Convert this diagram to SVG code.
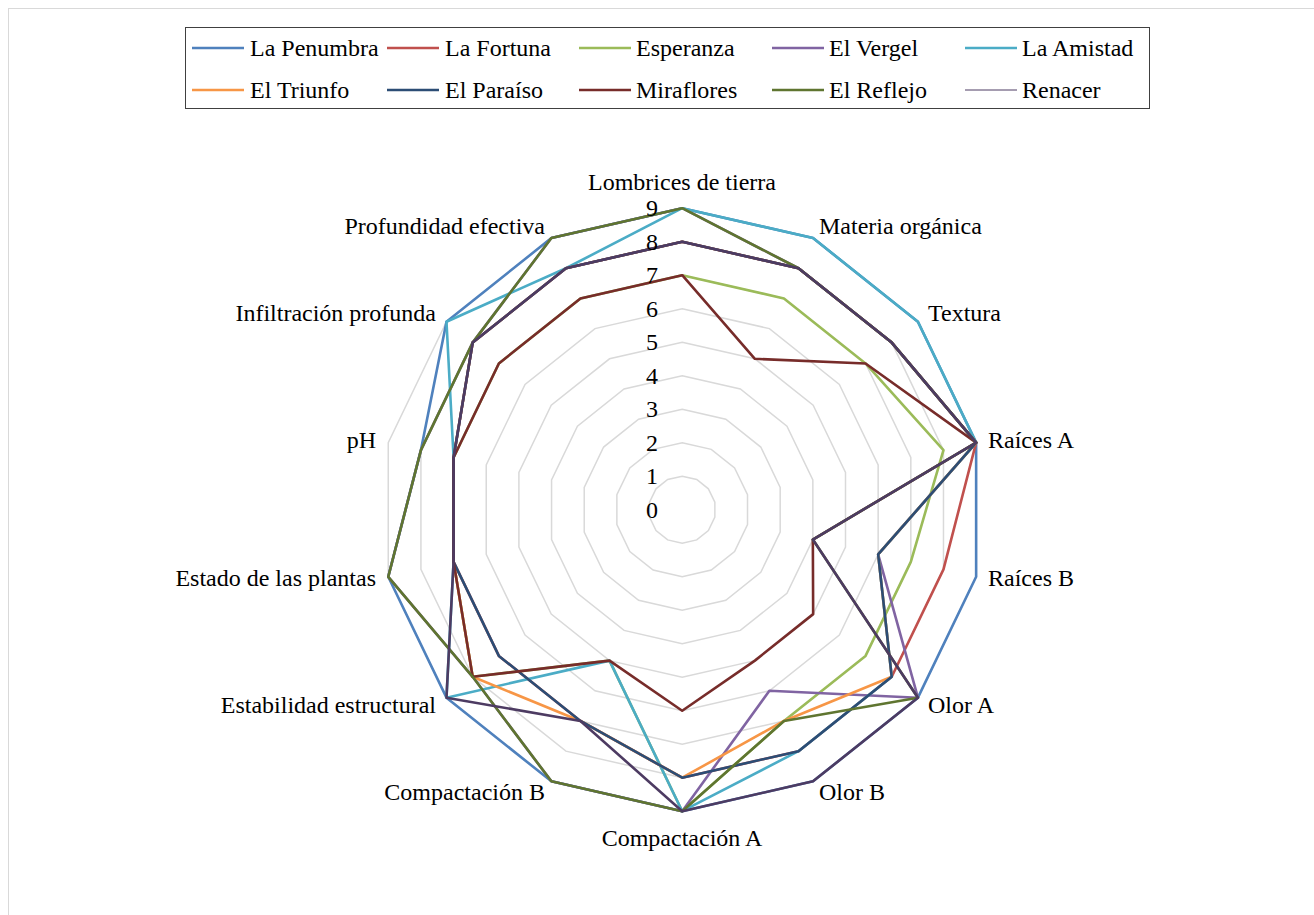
<svg xmlns="http://www.w3.org/2000/svg" width="1314" height="915" viewBox="0 0 1314 915">
<style>
text{font-family:"Liberation Serif","Times New Roman",serif;font-size:24px;fill:#000}
.grid polygon{fill:none;stroke:#D9D9D9;stroke-width:1.5}
.s{fill:none;stroke-width:2.6;stroke-linejoin:round}
.lg{stroke-width:2.6}
.end{text-anchor:end}
.mid{text-anchor:middle}
</style>
<rect x="8.5" y="8.5" width="1320" height="920" fill="#FFFFFF" stroke="#D9D9D9" stroke-width="1"/>
<g id="plot" transform="translate(682.2,509.7)">
<g id="grid" class="grid">
<polygon points="0,-33.5 14.54,-30.18 26.19,-20.89 32.66,-7.45 32.66,7.45 26.19,20.89 14.54,30.18 0,33.5 -14.54,30.18 -26.19,20.89 -32.66,7.45 -32.66,-7.45 -26.19,-20.89 -14.54,-30.18"/>
<polygon points="0,-67 29.07,-60.36 52.38,-41.77 65.32,-14.91 65.32,14.91 52.38,41.77 29.07,60.36 0,67 -29.07,60.36 -52.38,41.77 -65.32,14.91 -65.32,-14.91 -52.38,-41.77 -29.07,-60.36"/>
<polygon points="0,-100.5 43.6,-90.55 78.57,-62.66 97.98,-22.36 97.98,22.36 78.57,62.66 43.6,90.55 0,100.5 -43.6,90.55 -78.57,62.66 -97.98,22.36 -97.98,-22.36 -78.57,-62.66 -43.6,-90.55"/>
<polygon points="0,-134 58.14,-120.73 104.76,-83.55 130.64,-29.82 130.64,29.82 104.76,83.55 58.14,120.73 0,134 -58.14,120.73 -104.76,83.55 -130.64,29.82 -130.64,-29.82 -104.76,-83.55 -58.14,-120.73"/>
<polygon points="0,-167.5 72.68,-150.91 130.96,-104.44 163.3,-37.27 163.3,37.27 130.96,104.44 72.68,150.91 0,167.5 -72.68,150.91 -130.96,104.44 -163.3,37.27 -163.3,-37.27 -130.96,-104.44 -72.68,-150.91"/>
<polygon points="0,-201 87.21,-181.09 157.15,-125.32 195.96,-44.72 195.96,44.72 157.15,125.32 87.21,181.09 0,201 -87.21,181.09 -157.15,125.32 -195.96,44.72 -195.96,-44.72 -157.15,-125.32 -87.21,-181.09"/>
<polygon points="0,-234.5 101.75,-211.27 183.34,-146.21 228.62,-52.18 228.62,52.18 183.34,146.21 101.75,211.27 0,234.5 -101.75,211.27 -183.34,146.21 -228.62,52.18 -228.62,-52.18 -183.34,-146.21 -101.75,-211.27"/>
<polygon points="0,-268 116.28,-241.46 209.53,-167.1 261.28,-59.63 261.28,59.63 209.53,167.1 116.28,241.46 0,268 -116.28,241.46 -209.53,167.1 -261.28,59.63 -261.28,-59.63 -209.53,-167.1 -116.28,-241.46"/>
<polygon points="0,-301.5 130.82,-271.64 235.72,-187.98 293.94,-67.09 293.94,67.09 235.72,187.98 130.82,271.64 0,301.5 -130.82,271.64 -235.72,187.98 -293.94,67.09 -293.94,-67.09 -235.72,-187.98 -130.82,-271.64"/>
</g>
<g id="series">
<polygon id="s-la-penumbra" class="s" stroke="#4F81BD" points="0,-301.5 130.82,-271.64 235.72,-187.98 293.94,-67.09 293.94,67.09 235.72,187.98 130.82,271.64 0,301.5 -130.82,271.64 -235.72,187.98 -293.94,67.09 -261.28,-59.63 -235.72,-187.98 -130.82,-271.64"/>
<polygon id="s-la-fortuna" class="s" stroke="#C0504D" points="0,-268 116.28,-241.46 209.53,-167.1 293.94,-67.09 261.28,59.63 209.53,167.1 116.28,241.46 0,268 -101.75,211.27 -183.34,146.21 -228.62,52.18 -228.62,-52.18 -209.53,-167.1 -116.28,-241.46"/>
<polygon id="s-esperanza" class="s" stroke="#9BBB59" points="0,-234.5 101.75,-211.27 183.34,-146.21 261.28,-59.63 228.62,52.18 183.34,146.21 101.75,211.27 0,301.5 -72.68,150.91 -209.53,167.1 -228.62,52.18 -228.62,-52.18 -183.34,-146.21 -101.75,-211.27"/>
<polygon id="s-el-vergel" class="s" stroke="#8064A2" points="0,-301.5 116.28,-241.46 209.53,-167.1 293.94,-67.09 195.96,44.72 235.72,187.98 87.21,181.09 0,301.5 -130.82,271.64 -209.53,167.1 -293.94,67.09 -261.28,-59.63 -209.53,-167.1 -130.82,-271.64"/>
<polygon id="s-la-amistad" class="s" stroke="#4BACC6" points="0,-301.5 130.82,-271.64 235.72,-187.98 293.94,-67.09 195.96,44.72 209.53,167.1 116.28,241.46 0,301.5 -72.68,150.91 -235.72,187.98 -228.62,52.18 -228.62,-52.18 -235.72,-187.98 -116.28,-241.46"/>
<polygon id="s-el-triunfo" class="s" stroke="#F79646" points="0,-268 116.28,-241.46 209.53,-167.1 293.94,-67.09 195.96,44.72 209.53,167.1 101.75,211.27 0,268 -101.75,211.27 -209.53,167.1 -228.62,52.18 -228.62,-52.18 -209.53,-167.1 -116.28,-241.46"/>
<polygon id="s-el-paraiso" class="s" stroke="#2C4D75" points="0,-268 116.28,-241.46 209.53,-167.1 293.94,-67.09 195.96,44.72 209.53,167.1 116.28,241.46 0,268 -101.75,211.27 -183.34,146.21 -228.62,52.18 -228.62,-52.18 -209.53,-167.1 -116.28,-241.46"/>
<polygon id="s-miraflores" class="s" stroke="#772C2A" points="0,-234.5 72.68,-150.91 183.34,-146.21 293.94,-67.09 130.64,29.82 130.96,104.44 72.68,150.91 0,201 -72.68,150.91 -209.53,167.1 -228.62,52.18 -228.62,-52.18 -183.34,-146.21 -101.75,-211.27"/>
<polygon id="s-el-reflejo" class="s" stroke="#5F7530" points="0,-301.5 116.28,-241.46 209.53,-167.1 293.94,-67.09 130.64,29.82 235.72,187.98 101.75,211.27 0,301.5 -130.82,271.64 -209.53,167.1 -293.94,67.09 -261.28,-59.63 -209.53,-167.1 -130.82,-271.64"/>
<polygon id="s-renacer" class="s" stroke="#4D3B62" stroke-width="1" points="0,-268 116.28,-241.46 209.53,-167.1 293.94,-67.09 130.64,29.82 235.72,187.98 130.82,271.64 0,301.5 -101.75,211.27 -235.72,187.98 -228.62,52.18 -228.62,-52.18 -209.53,-167.1 -116.28,-241.46"/>
</g>
</g>
<g id="ticks" class="end">
<text x="658" y="518">0</text>
<text x="658" y="484">1</text>
<text x="658" y="451">2</text>
<text x="658" y="417">3</text>
<text x="658" y="384">4</text>
<text x="658" y="350">5</text>
<text x="658" y="317">6</text>
<text x="658" y="283">7</text>
<text x="658" y="250">8</text>
<text x="658" y="216">9</text>
</g>
<g id="axis-labels">
<text id="lbl-lombrices" class="mid" x="682" y="190">Lombrices de tierra</text>
<text id="lbl-materia" x="819" y="234">Materia orgánica</text>
<text id="lbl-textura" x="928" y="321">Textura</text>
<text id="lbl-raices-a" x="988" y="448">Raíces A</text>
<text id="lbl-raices-b" x="988" y="586">Raíces B</text>
<text id="lbl-olor-a" x="928" y="713">Olor A</text>
<text id="lbl-olor-b" x="819" y="800">Olor B</text>
<text id="lbl-comp-a" class="mid" x="682" y="846">Compactación A</text>
<text id="lbl-comp-b" class="end" x="545" y="800">Compactación B</text>
<text id="lbl-estab" class="end" x="436" y="713">Estabilidad estructural</text>
<text id="lbl-estado" class="end" x="376" y="586">Estado de las plantas</text>
<text id="lbl-ph" class="end" x="376" y="448">pH</text>
<text id="lbl-infil" class="end" x="436" y="321">Infiltración profunda</text>
<text id="lbl-prof" class="end" x="545" y="234">Profundidad efectiva</text>
</g>
<g id="legend">
<rect x="185.5" y="27.5" width="964" height="81" fill="#FFFFFF" stroke="#404040" stroke-width="1"/>
<g id="lg-la-penumbra"><line class="lg" x1="192" y1="48" x2="244" y2="48" stroke="#4F81BD"/><text x="250" y="56">La Penumbra</text></g>
<g id="lg-la-fortuna"><line class="lg" x1="387" y1="48" x2="439" y2="48" stroke="#C0504D"/><text x="445" y="56">La Fortuna</text></g>
<g id="lg-esperanza"><line class="lg" x1="579" y1="48" x2="631" y2="48" stroke="#9BBB59"/><text x="636" y="56">Esperanza</text></g>
<g id="lg-el-vergel"><line class="lg" x1="772" y1="48" x2="824" y2="48" stroke="#8064A2"/><text x="829" y="56">El Vergel</text></g>
<g id="lg-la-amistad"><line class="lg" x1="965" y1="48" x2="1017" y2="48" stroke="#4BACC6"/><text x="1022" y="56">La Amistad</text></g>
<g id="lg-el-triunfo"><line class="lg" x1="192" y1="90" x2="244" y2="90" stroke="#F79646"/><text x="250" y="98">El Triunfo</text></g>
<g id="lg-el-paraiso"><line class="lg" x1="387" y1="90" x2="439" y2="90" stroke="#2C4D75"/><text x="445" y="98">El Paraíso</text></g>
<g id="lg-miraflores"><line class="lg" x1="579" y1="90" x2="631" y2="90" stroke="#772C2A"/><text x="636" y="98">Miraflores</text></g>
<g id="lg-el-reflejo"><line class="lg" x1="772" y1="90" x2="824" y2="90" stroke="#5F7530"/><text x="829" y="98">El Reflejo</text></g>
<g id="lg-renacer"><line x1="965" y1="90" x2="1017" y2="90" stroke="#4D3B62" stroke-width="1"/><text x="1022" y="98">Renacer</text></g>
</g>
</svg>
